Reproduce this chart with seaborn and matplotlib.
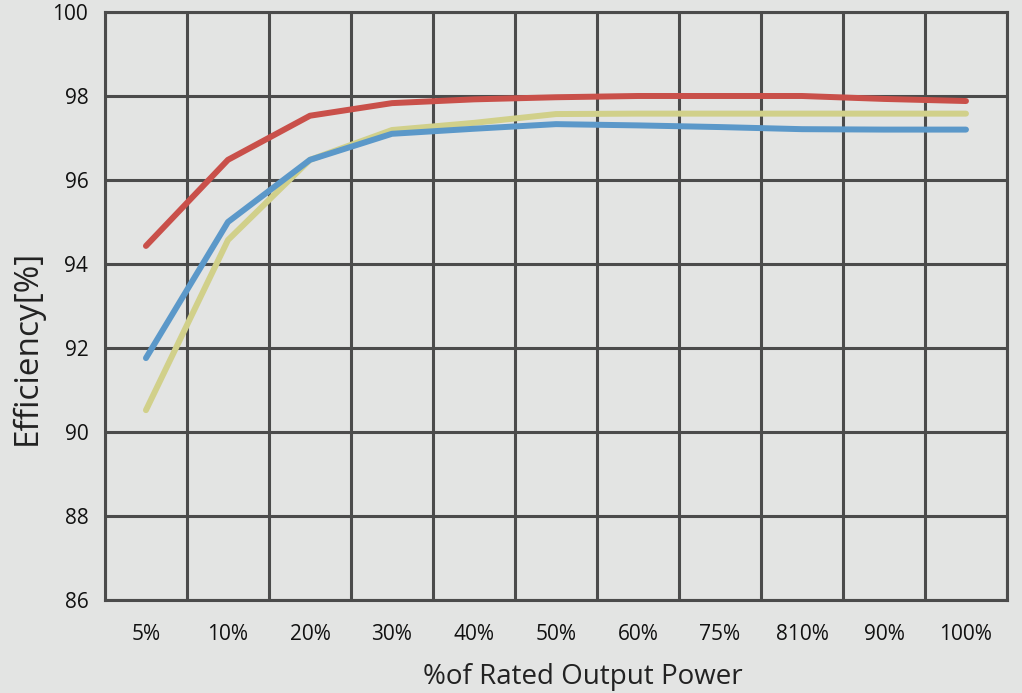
import numpy as np
import pandas as pd
import matplotlib.pyplot as plt
import seaborn as sns

# load levels as printed on the chart (note "810%" is as in the source)
load_labels = ["5%", "10%", "20%", "30%", "40%", "50%", "60%", "75%", "810%", "90%", "100%"]

red = [94.43, 96.48, 97.53, 97.83, 97.92, 97.97, 98.0, 98.0, 98.0, 97.93, 97.88]
blue = [91.76, 95.0, 96.48, 97.1, 97.22, 97.33, 97.3, 97.26, 97.21, 97.2, 97.2]
yellow = [90.52, 94.57, 96.48, 97.19, 97.36, 97.57, 97.58, 97.58, 97.58, 97.58, 97.58]

bg = "#e3e4e3"
grid_col = "#4b4b4b"

sns.set_theme(style="white")
plt.rcParams['font.family'] = ['Open Sans', 'DejaVu Sans']

pos = np.arange(len(load_labels))
df = pd.DataFrame({
    "pos": np.tile(pos, 3),
    "eff": red + blue + yellow,
    "series": ["red"] * len(pos) + ["blue"] * len(pos) + ["yellow"] * len(pos),
})

fig = plt.figure(figsize=(10.22, 6.93), dpi=100, facecolor=bg)
ax = fig.add_axes([0.1027, 0.1342, 0.8826, 0.8485])
ax.set_facecolor(bg)

sns.lineplot(data=df, x="pos", y="eff", hue="series",
             palette={"red": "#c9504a", "blue": "#5b98c9", "yellow": "#d1d08a"},
             hue_order=["yellow", "blue", "red"],
             linewidth=4.3, legend=False, ax=ax, zorder=3)

ax.set_xlim(-0.5, len(load_labels) - 0.5)
ax.set_ylim(86, 100)

# gridlines sit on the cell edges, labels in the cell centres
ax.set_xticks(np.arange(-0.5, len(load_labels), 1.0))
ax.set_xticklabels([])
ax.set_xticks(pos, minor=True)
ax.set_xticklabels(load_labels, minor=True)
ax.set_yticks(np.arange(86, 101, 2))
ax.grid(True, which="major", color=grid_col, linewidth=2.2)
ax.tick_params(axis="both", which="both", length=0, labelsize=15, colors="#111111")
ax.tick_params(axis="x", which="minor", pad=17)
ax.tick_params(axis="y", pad=12)

for s in ax.spines.values():
    s.set_color(grid_col)
    s.set_linewidth(2.2)

ax.set_xlabel("%of Rated Output Power", fontsize=20, color="#222222")
ax.set_ylabel("Efficiency[%]", fontsize=24, color="#222222")
ax.xaxis.set_label_coords(0.53, -0.107)
ax.yaxis.set_label_coords(-0.068, 0.43)

fig.savefig("out.png", dpi=100, facecolor=bg)
